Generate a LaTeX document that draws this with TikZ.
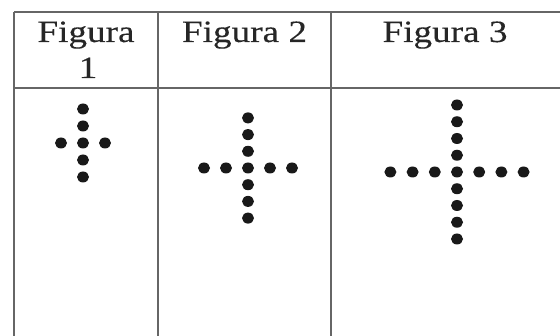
\documentclass[tikz,border=0pt]{standalone}
\usepackage{fontspec}
\setmainfont{Liberation Serif}[FakeStretch=1.2,FakeBold=0.25]
\usepackage{tikz}
\tikzset{
  rule/.style={line width=1.8pt,draw=black!60},
  dot/.style={fill=black!90},
  head/.style={inner sep=0pt,anchor=base,text=black!85,font=\fontsize{31}{36}\selectfont}
}
\begin{document}
\begin{tikzpicture}[x=1pt,y=-1pt]
\useasboundingbox (0,0) rectangle (560,336);
\coordinate (TL) at (14,12);
\coordinate (TR) at (560,12);
\coordinate (HL) at (14,88);
\coordinate (HR) at (560,88);
\draw[rule] (TL)--(TR);
\draw[rule] (HL)--(HR);
\foreach \x in {14,158,331}
  \draw[rule] (\x,12)--(\x,336);
\node[head] (fig1) at (86,42) {Figura};
\node[head] (fig1n) at (88,78) {1};
\node[head] (fig2) at (244.5,42) {Figura 2};
\node[head] (fig3) at (445,42) {Figura 3};
% figura 1
\foreach \j in {-2,...,2} \fill[dot] (83,143+17*\j) ellipse (6 and 5.5);
\foreach \i in {-1,1} \fill[dot] (83+22*\i,143) ellipse (6 and 5.5);
% figura 2
\foreach \j in {-3,...,3} \fill[dot] (248,168+16.7*\j) ellipse (6 and 5.5);
\foreach \i in {-2,-1,1,2} \fill[dot] (248+22*\i,168) ellipse (6 and 5.5);
% figura 3
\foreach \j in {-4,...,4} \fill[dot] (457,172+16.75*\j) ellipse (6 and 5.5);
\foreach \i in {-3,-2,-1,1,2,3} \fill[dot] (457+22.2*\i,172) ellipse (6 and 5.5);
\end{tikzpicture}
\end{document}
